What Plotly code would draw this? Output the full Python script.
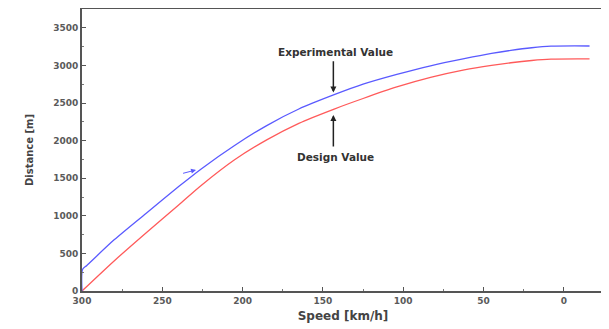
import plotly.graph_objects as go

speed_exp = [300, 299.6, 297, 280, 260, 240, 226, 205, 185, 165, 143, 125, 104, 83, 62, 45, 33, 20, 8, -16]
dist_exp = [0, 290, 340, 680, 1035, 1385, 1620, 1935, 2200, 2420, 2610, 2750, 2880, 2995, 3090, 3160, 3200, 3235, 3255, 3258]

speed_des = [300, 280, 260, 240, 226, 205, 185, 165, 143, 125, 104, 83, 62, 45, 33, 20, 8, -16]
dist_des = [0, 400, 775, 1140, 1400, 1745, 2010, 2230, 2420, 2560, 2713, 2840, 2940, 3000, 3035, 3065, 3083, 3086]

x_ticks = [300, 250, 200, 150, 100, 50, 0]
y_ticks = [0, 500, 1000, 1500, 2000, 2500, 3000, 3500]

tickfont = dict(family="DejaVu Sans", size=9, color="#5a5a5a", weight="bold")

fig = go.Figure()
fig.add_trace(go.Scatter(x=speed_des, y=dist_des, mode="lines",
                         line=dict(color="#ff5a5a", width=1.3, shape="spline", smoothing=0.8),
                         name="Design Value"))
fig.add_trace(go.Scatter(x=speed_exp, y=dist_exp, mode="lines",
                         line=dict(color="#5a5aff", width=1.3, shape="spline", smoothing=0.8),
                         name="Experimental Value"))

fig.update_layout(
    width=601, height=321,
    margin=dict(l=74, r=5, t=1, b=38),
    paper_bgcolor="white", plot_bgcolor="white",
    showlegend=False,
    xaxis=dict(range=[300, -25], tickvals=x_ticks, ticks="inside", ticklen=4, automargin=False,
               tickcolor="#555555", showline=True, linecolor="#555555", linewidth=2,
               mirror=True, showgrid=False, zeroline=False, tickfont=tickfont,
               minor=dict(dtick=25, ticks="inside", ticklen=2, tickcolor="#777777"),
               title=dict(text="Speed [km/h]", standoff=7,
                          font=dict(family="DejaVu Sans", size=12, color="#444444", weight="bold"))),
    yaxis=dict(range=[0, 3750], tickvals=y_ticks, ticks="inside", ticklen=4, automargin=False,
               tickcolor="#555555", showline=True, linecolor="#555555", linewidth=2,
               mirror=True, showgrid=False, zeroline=False, tickfont=tickfont,
               minor=dict(dtick=250, ticks="inside", ticklen=2, tickcolor="#777777"),
               title=dict(text="Distance [m]", standoff=18,
                          font=dict(family="DejaVu Sans", size=10, color="#444444", weight="bold"))),
)

annfont = dict(family="DejaVu Sans", size=10.5, color="#333333", weight="bold")
fig.add_annotation(x=143.5, y=2640, ax=143.5, ay=3075, xref="x", yref="y", axref="x", ayref="y",
                   text="", showarrow=True, arrowhead=2, arrowsize=0.8, arrowwidth=1.5, arrowcolor="#222222")
fig.add_annotation(x=142, y=3180, xref="x", yref="y", text="Experimental Value",
                   showarrow=False, font=annfont)
fig.add_annotation(x=143.5, y=2340, ax=143.5, ay=1900, xref="x", yref="y", axref="x", ayref="y",
                   text="", showarrow=True, arrowhead=2, arrowsize=0.8, arrowwidth=1.5, arrowcolor="#222222")
fig.add_annotation(x=142, y=1780, xref="x", yref="y", text="Design Value",
                   showarrow=False, font=annfont)
fig.add_annotation(x=229, y=1610, ax=238, ay=1560, xref="x", yref="y", axref="x", ayref="y",
                   text="", showarrow=True, arrowhead=2, arrowsize=1, arrowwidth=1, arrowcolor="#5a5aff")

fig.write_html("out.html")
